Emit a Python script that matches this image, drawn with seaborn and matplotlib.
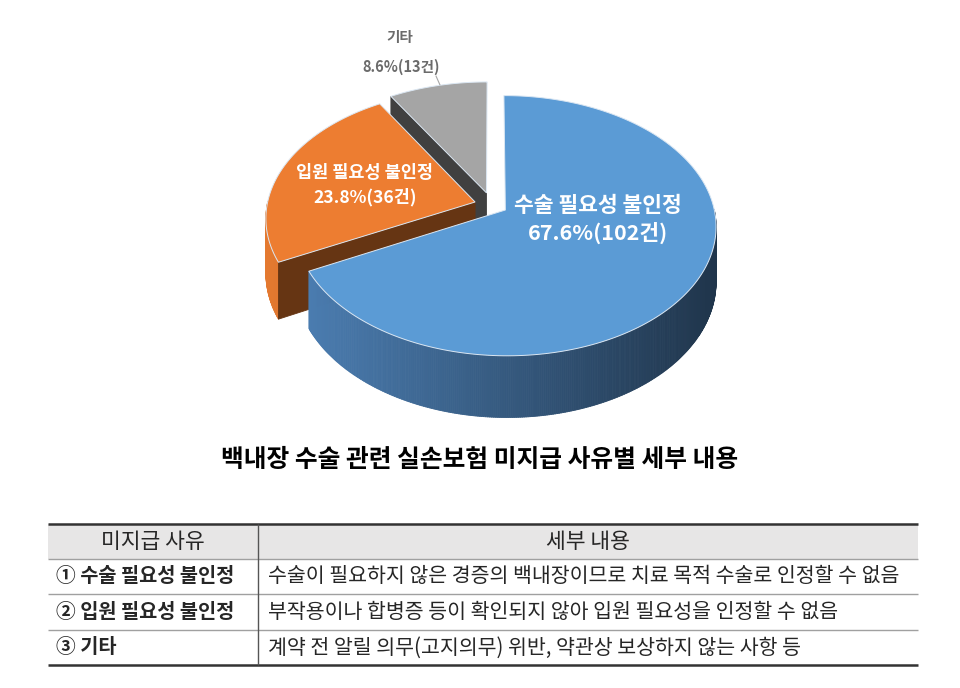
import numpy as np
import matplotlib
matplotlib.use('Agg')
import matplotlib.pyplot as plt
import seaborn as sns
from matplotlib.patches import Polygon, Rectangle
from matplotlib.collections import PolyCollection
from matplotlib.colors import to_rgb

# data
reasons = ['수술 필요성 불인정', '입원 필요성 불인정', '기타']
counts = [102, 36, 13]
percents = [67.6, 23.8, 8.6]

table_header = ['미지급 사유', '세부 내용']
table_reasons = ['① 수술 필요성 불인정', '② 입원 필요성 불인정', '③ 기타']
table_details = ['수술이 필요하지 않은 경증의 백내장이므로 치료 목적 수술로 인정할 수 없음',
                 '부작용이나 합병증 등이 확인되지 않아 입원 필요성을 인정할 수 없음',
                 '계약 전 알릴 의무(고지의무) 위반, 약관상 보상하지 않는 사항 등']
title = '백내장 수술 관련 실손보험 미지급 사유별 세부 내용'

# styles
top_colors = ['#5B9BD5', '#ED7D31', '#A5A5A5']
side_light = ['#4F84BB', '#E57A30', '#8a8a8a']
side_dark = ['#1F344A', '#7a3e14', '#444444']
cut_colors = ['#2a4560', '#663513', '#404040']
explode = [0.075, 0.085, 0.10]

sns.set_theme(style='white')
plt.rcParams['font.family'] = ['Noto Sans CJK KR', 'DejaVu Sans']

fig = plt.figure(figsize=(9.6, 6.88), dpi=100)
ax = fig.add_axes([0, 0, 1, 1])
ax.set_xlim(0, 960)
ax.set_ylim(688, 0)
ax.axis('off')

# 3d pie geometry (pixel space with a little perspective)
CX, CY, RX, RY, DEPTH, K = 492, 205, 208, 127, 54, 0.12


def proj(u, v, h=0.0):
    f = 1.0 / (1.0 + K * v)
    return CX + RX * u * f, CY - RY * v * f + DEPTH * h * f


def lerp(c1, c2, t):
    a, b = np.array(to_rgb(c1)), np.array(to_rgb(c2))
    return tuple(a + (b - a) * t)


total = sum(counts)
cum = np.cumsum([0] + counts)
starts = 90 - 360 * cum[:-1] / total
ends = 90 - 360 * cum[1:] / total

wedges = []
for i in range(len(counts)):
    t1, t2 = ends[i], starts[i]  # ccw interval
    mid = np.radians((t1 + t2) / 2)
    ox, oy = explode[i] * np.cos(mid), explode[i] * np.sin(mid)
    wedges.append((t1, t2, ox, oy))

xmin, xmax = CX - RX * 1.1, CX + RX * 1.1

# draw back to front: gray, orange, blue
for i in [2, 1, 0]:
    t1, t2, ox, oy = wedges[i]
    # outer wall on the front half
    segs, cols = [], []
    th = np.linspace(t1, t2, int(abs(t2 - t1) * 2) + 2)
    for ta, tb in zip(th[:-1], th[1:]):
        tm = np.radians((ta + tb) / 2)
        if np.sin(tm) >= 0:
            continue
        ra, rb = np.radians(ta), np.radians(tb)
        p1 = proj(ox + np.cos(ra), oy + np.sin(ra), 0)
        p2 = proj(ox + np.cos(rb), oy + np.sin(rb), 0)
        p3 = proj(ox + np.cos(rb), oy + np.sin(rb), 1)
        p4 = proj(ox + np.cos(ra), oy + np.sin(ra), 1)
        segs.append([p1, p2, p3, p4])
        xm = (p1[0] + p2[0]) / 2
        cols.append(lerp(side_light[i], side_dark[i], np.clip((xm - xmin) / (xmax - xmin), 0, 1)))
    if segs:
        ax.add_collection(PolyCollection(segs, facecolors=cols, edgecolors=cols, linewidths=0.6))
    # radial cut faces
    for ang, nrm in [(t2, t2 + 90), (t1, t1 - 90)]:
        if np.sin(np.radians(nrm)) < -1e-6:
            r = np.radians(ang)
            q = [proj(ox, oy, 0), proj(ox + np.cos(r), oy + np.sin(r), 0),
                 proj(ox + np.cos(r), oy + np.sin(r), 1), proj(ox, oy, 1)]
            ax.add_patch(Polygon(q, closed=True, facecolor=cut_colors[i], edgecolor=cut_colors[i], lw=0.6))
    # top face
    th = np.radians(np.linspace(t1, t2, 200))
    pts = [proj(ox, oy)] + [proj(ox + np.cos(t), oy + np.sin(t)) for t in th]
    ax.add_patch(Polygon(pts, closed=True, facecolor=top_colors[i], edgecolor='#dbe7f3', lw=0.7))

# slice labels
ax.text(598, 205, reasons[0], color='white', fontsize=15.5, fontweight='bold', ha='center', va='center')
ax.text(598, 233, f'{percents[0]}%({counts[0]}건)', color='white', fontsize=15.5, fontweight='bold',
        ha='center', va='center')
ax.text(365, 173, reasons[1], color='white', fontsize=12.6, fontweight='bold', ha='center', va='center')
ax.text(365, 197, f'{percents[1]}%({counts[1]}건)', color='white', fontsize=12.6, fontweight='bold',
        ha='center', va='center')
ax.text(400, 37, reasons[2], color='#6b6b6b', fontsize=10.5, fontweight='bold', ha='center', va='center')
ax.text(401, 67, f'{percents[2]}%({counts[2]}건)', color='#6b6b6b', fontsize=10.5, fontweight='bold',
        ha='center', va='center')
ax.plot([436, 440], [76, 85], color='#a6a6a6', lw=0.8)

# title
ax.text(480, 460, title, fontsize=17.8, fontweight='bold', ha='center', va='center', color='black')

# table
left, right, divx = 48, 918, 258
rows_y = [524, 559, 594, 630, 665]
ax.add_patch(Rectangle((left, rows_y[0]), right - left, rows_y[1] - rows_y[0], facecolor='#E7E6E6', lw=0))
ax.hlines(rows_y[1:-1], left, right, colors='#a0a0a0', lw=1)
ax.hlines([rows_y[0], rows_y[-1]], left, right, colors='#333333', lw=1.8)
ax.vlines(divx, rows_y[0], rows_y[-1], colors='#555555', lw=1)

hy = (rows_y[0] + rows_y[1]) / 2
ax.text((left + divx) / 2, hy, table_header[0], fontsize=15.5, ha='center', va='center')
ax.text((divx + right) / 2, hy, table_header[1], fontsize=15.5, ha='center', va='center')
for j in range(len(table_reasons)):
    yc = (rows_y[j + 1] + rows_y[j + 2]) / 2
    ax.text(56, yc, table_reasons[j], fontsize=14.2, fontweight='bold', ha='left', va='center')
    ax.text(268, yc, table_details[j], fontsize=14.8, ha='left', va='center')

fig.savefig('out.png', dpi=100)
